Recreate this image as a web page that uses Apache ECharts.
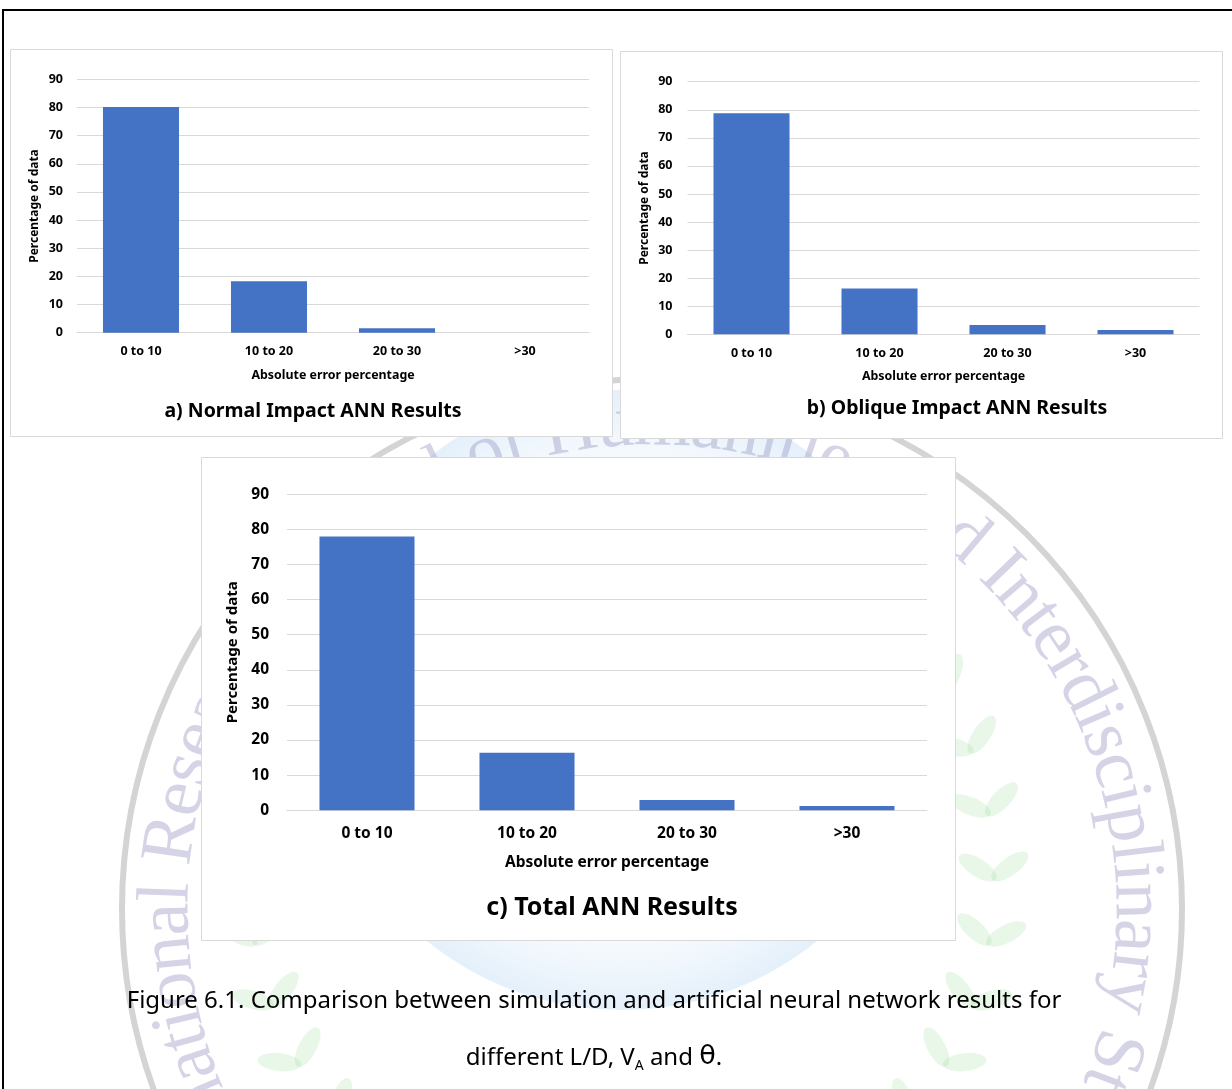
<!DOCTYPE html>
<html>
<head>
<meta charset="utf-8">
<title>Figure 6.1 – ANN absolute error distribution</title>
<script src="https://cdn.jsdelivr.net/npm/echarts@6/dist/echarts.min.js"></script>
<style>
  html, body { margin: 0; padding: 0; background: #ffffff; }
  #chart { width: 1232px; height: 1089px; }
</style>
</head>
<body>
<div id="chart"></div>
<script>
// ---- data ----
const categories = ['0 to 10', '10 to 20', '20 to 30', '>30'];
const normalImpact = [80.2, 18.3, 1.6, 0];
const obliqueImpact = [78.8, 16.3, 3.3, 1.5];
const totalResults = [78.0, 16.4, 2.9, 1.2];
const yMin = 0, yMax = 90, yStep = 10;

const panelTitles = ['a) Normal Impact ANN Results', 'b) Oblique Impact ANN Results', 'c) Total ANN Results'];
const xName = 'Absolute error percentage';
const yName = 'Percentage of data';
const sealText = 'International Research Journal of Humanities and Interdisciplinary Studies';

// ---- styling ----
const BAR = '#4472C4';
const GRID_LINE = '#d9d9d9';
const FRAME = '#d9d9d9';
const FONT = '"Noto Sans", "Open Sans", sans-serif';

// panel geometry (plot areas and surrounding frames)
const panels = [
  { grid: { left: 77, top: 79.3, width: 512, height: 253.4 },
    frame: { x: 10, y: 49, w: 602, h: 387 },
    tick: 12.5, catMargin: 12.5, axisName: 12.4, nameGap: 37, yNameSize: 12, yNameGap: 36, yLabelMargin: 14,
    title: { x: 313, y: 411, size: 19.5 } },
  { grid: { left: 687.5, top: 81.7, width: 512, height: 252.6 },
    frame: { x: 620, y: 51, w: 602, h: 387 },
    tick: 12.5, catMargin: 12.5, axisName: 12.4, nameGap: 36, yNameSize: 12, yNameGap: 37, yLabelMargin: 15,
    title: { x: 957, y: 408, size: 19.5 } },
  { grid: { left: 287, top: 494.3, width: 640, height: 316 },
    frame: { x: 201, y: 457, w: 754, h: 483 },
    tick: 15.5, catMargin: 15.5, axisName: 15.5, nameGap: 44, yNameSize: 15, yNameGap: 46, yLabelMargin: 18,
    title: { x: 612, y: 908, size: 25 } }
];
const seriesData = [normalImpact, obliqueImpact, totalResults];

// ---- faint journal seal in the page background ----
const seal = { cx: 652, cy: 909, ringR: 530, textR: 484, font: 74 };
function sealElements() {
  const els = [];
  // globe tint, mostly hidden behind panel c
  els.push({
    type: 'circle', z: -22, silent: true,
    shape: { cx: 622, cy: 700, r: 310 },
    style: {
      fill: new echarts.graphic.RadialGradient(0.5, 0.5, 0.5, [
        { offset: 0, color: 'rgba(255,255,255,0)' },
        { offset: 0.75, color: 'rgba(225,238,250,0.25)' },
        { offset: 1, color: 'rgba(200,224,246,0.5)' }
      ])
    }
  });
  // laurel branches flanking the globe
  const lc = { cx: 622, cy: 880, r: 372 };
  [1, -1].forEach(side => {
    for (let deg = 48; deg <= 176; deg += 10) {
      const th = side * deg * Math.PI / 180;
      const px = lc.cx + lc.r * Math.sin(th);
      const py = lc.cy - lc.r * Math.cos(th);
      [-1, 1].forEach(k => {
        const off = 16 * k;
        els.push({
          type: 'ellipse', z: -21, silent: true,
          x: px + off * Math.sin(th), y: py - off * Math.cos(th),
          rotation: -th + side * k * 0.6,
          shape: { cx: 0, cy: 0, rx: 9, ry: 22 },
          style: { fill: 'rgba(120,205,120,0.16)' }
        });
      });
    }
  });
  els.push({
    type: 'circle', z: -20, silent: true,
    shape: { cx: seal.cx, cy: seal.cy, r: seal.ringR },
    style: { fill: 'none', stroke: '#d4d4d4', lineWidth: 6 }
  });
  const ctx = document.createElement('canvas').getContext('2d');
  const fontStr = seal.font + 'px "Liberation Serif", serif';
  ctx.font = fontStr;
  const chars = Array.from(sealText);
  const widths = chars.map(ch => ctx.measureText(ch).width);
  const centers = [];
  let acc = 0;
  widths.forEach(w => { centers.push(acc + w / 2); acc += w; });
  // anchor the "I" of "Interdisciplinary" on the upper right of the ring
  const anchorIdx = sealText.indexOf('Interdisciplinary');
  const anchorAngle = 46 * Math.PI / 180;
  const theta0 = anchorAngle - centers[anchorIdx] / seal.textR;
  chars.forEach((ch, i) => {
    if (ch === ' ') return;
    const th = theta0 + centers[i] / seal.textR;
    els.push({
      type: 'text', z: -19, silent: true,
      x: seal.cx + seal.textR * Math.sin(th),
      y: seal.cy - seal.textR * Math.cos(th),
      rotation: -th,
      style: { text: ch, font: fontStr, fill: 'rgba(160,160,200,0.45)', align: 'center', verticalAlign: 'middle' }
    });
  });
  return els;
}

// ---- assemble option ----
const grids = [], xAxes = [], yAxes = [], series = [], graphics = [];

panels.forEach((p, i) => {
  grids.push(Object.assign({ containLabel: false }, p.grid));
  xAxes.push({
    type: 'category', gridIndex: i, data: categories,
    name: xName, nameLocation: 'middle', nameGap: p.nameGap,
    nameTextStyle: { fontFamily: FONT, fontWeight: 'bold', fontSize: p.axisName, color: '#000' },
    axisLine: { show: true, lineStyle: { color: GRID_LINE, width: 1 } },
    axisTick: { show: false },
    axisLabel: { fontFamily: FONT, fontWeight: 'bold', fontSize: p.tick, color: '#000', margin: p.catMargin }
  });
  yAxes.push({
    type: 'value', gridIndex: i, min: yMin, max: yMax, interval: yStep,
    name: yName, nameLocation: 'middle', nameGap: p.yNameGap, nameRotate: 90,
    nameTextStyle: { fontFamily: FONT, fontWeight: 'bold', fontSize: p.yNameSize, color: '#000' },
    axisLine: { show: false }, axisTick: { show: false },
    splitLine: { show: true, lineStyle: { color: GRID_LINE, width: 1 } },
    axisLabel: { fontFamily: FONT, fontWeight: 'bold', fontSize: p.tick, color: '#000', margin: p.yLabelMargin }
  });
  series.push({
    type: 'bar', xAxisIndex: i, yAxisIndex: i, data: seriesData[i],
    barWidth: '59.4%', itemStyle: { color: BAR }, silent: true
  });
  graphics.push({
    type: 'rect', z: -10, silent: true,
    shape: { x: p.frame.x + 0.5, y: p.frame.y + 0.5, width: p.frame.w, height: p.frame.h },
    style: { fill: '#ffffff', stroke: FRAME, lineWidth: 1 }
  });
  graphics.push({
    type: 'text', z: 5, silent: true, x: p.title.x, y: p.title.y,
    style: { text: panelTitles[i], font: 'bold ' + p.title.size + 'px ' + FONT, fill: '#000', align: 'center', verticalAlign: 'middle' }
  });
});

// page border
graphics.push({ type: 'line', z: 5, silent: true, shape: { x1: 2, y1: 10, x2: 1232, y2: 10 }, style: { stroke: '#000', lineWidth: 2 } });
graphics.push({ type: 'line', z: 5, silent: true, shape: { x1: 3, y1: 9, x2: 3, y2: 1089 }, style: { stroke: '#000', lineWidth: 2 } });

// figure caption
graphics.push({
  type: 'text', z: 5, silent: true, x: 594, y: 1001,
  style: { text: 'Figure 6.1. Comparison between simulation and artificial neural network results for',
           font: '24px ' + FONT, fill: '#000', align: 'center', verticalAlign: 'middle' }
});
graphics.push({
  type: 'text', z: 5, silent: true, x: 594, y: 1057,
  style: {
    text: '{a|different L/D, V}{s|A}{a| and }{t|θ}{a|.}',
    align: 'center', verticalAlign: 'middle',
    rich: {
      a: { fontFamily: FONT, fontSize: 24, color: '#000', verticalAlign: 'bottom' },
      s: { fontFamily: FONT, fontSize: 14, color: '#000', verticalAlign: 'bottom', padding: [0, 0, -3, 0] },
      t: { fontFamily: '"DejaVu Sans", sans-serif', fontSize: 27, color: '#000', verticalAlign: 'bottom' }
    }
  }
});

const option = {
  backgroundColor: '#ffffff',
  animation: false,
  grid: grids, xAxis: xAxes, yAxis: yAxes, series: series,
  graphic: { elements: sealElements().concat(graphics) }
};

const chart = echarts.init(document.getElementById('chart'), null, { renderer: 'canvas' });
chart.setOption(option);
</script>
</body>
</html>
